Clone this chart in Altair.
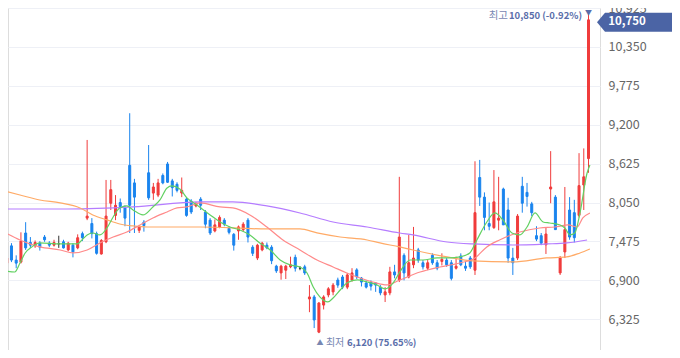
import altair as alt
import pandas as pd

# ---------------- data ----------------
OPEN = [6800, 7155, 7410, 7200, 7170, 7600, 7460, 7410, 7450, 7540,
        7450, 7420, 7440, 7470, 7350, 7420, 7380, 7590, 7820, 7740,
        7590, 7290, 7470, 8040, 7860, 8050, 7970, 8600, 8340, 7640,
        7760, 8490, 8190, 8160, 8450, 8620, 8370, 8320, 8190, 8100,
        8070, 8000, 8100, 7910, 7790, 7630, 7690, 7790, 7670, 7580,
        7630, 7650, 7790, 7390, 7230, 7350, 7420, 7390, 7110, 7010,
        7050, 7100, 7240, 7080, 7100, 6625, 6655, 6135, 6535, 6685,
        6730, 6905, 6950, 6800, 6905, 7055, 6935, 6860, 6875, 6860,
        6800, 6685, 6715, 7025, 6905, 7270, 6950, 7130, 7350, 7160,
        7080, 7270, 7160, 7180, 7200, 7160, 7080, 7260, 7110, 7230,
        7050, 8420, 8130, 7740, 7680, 7790, 8250, 7940, 7230, 7230,
        8290, 8200, 8030, 7560, 7560, 7425, 8250, 8130, 7010, 7320,
        7940, 7900, 7860, 8310, 8700]
HIGH = [6920, 7300, 7450, 7270, 7610, 7760, 7540, 7490, 7480, 7570,
        7480, 7500, 7560, 7500, 7470, 7450, 7580, 7620, 8975, 7820,
        7620, 7510, 8384, 8384, 8160, 8110, 8010, 9370, 8400, 7720,
        7790, 8900, 8340, 8400, 8480, 8650, 8400, 8350, 8420, 8130,
        8100, 8060, 8130, 7940, 7820, 7800, 7860, 7820, 7700, 7600,
        7710, 7760, 7820, 7420, 7440, 7470, 7460, 7420, 7130, 7130,
        7130, 7250, 7280, 7110, 7130, 6830, 6685, 6580, 6680, 6800,
        6860, 6940, 6980, 7010, 7080, 7080, 6950, 6900, 6900, 6875,
        6830, 6800, 7100, 7130, 8430, 7300, 7570, 7690, 7380, 7200,
        7200, 7300, 7200, 7300, 7230, 7200, 7250, 7300, 7180, 7260,
        8660, 8680, 8200, 8050, 8530, 8430, 8270, 8120, 7380, 7880,
        8430, 8340, 8060, 7700, 7600, 7680, 8810, 8160, 7260, 8280,
        8130, 8090, 8780, 8850, 10850]
LOW = [6760, 7130, 7170, 7080, 7150, 7350, 7380, 7380, 7340, 7470,
       7390, 7400, 7380, 7370, 7330, 7240, 7360, 7480, 7790, 7520,
       7280, 7280, 7450, 7940, 7790, 7900, 7700, 7600, 7600, 7600,
       7620, 8090, 8090, 8130, 8320, 8340, 8140, 8200, 8130, 7840,
       7880, 7980, 7940, 7670, 7570, 7610, 7670, 7700, 7580, 7340,
       7500, 7620, 7460, 7260, 7200, 7330, 7360, 7140, 7010, 6910,
       6920, 7080, 7030, 7050, 6980, 6430, 6195, 6120, 6470, 6650,
       6680, 6790, 6770, 6770, 6880, 6920, 6810, 6780, 6750, 6730,
       6680, 6580, 6680, 6930, 6875, 6900, 6930, 7080, 7160, 7060,
       7050, 7130, 7050, 7120, 7100, 6900, 7060, 7110, 7040, 7070,
       6980, 8000, 7640, 7640, 7660, 7640, 7720, 7160, 6980, 7200,
       7900, 7990, 7850, 7480, 7420, 7290, 8040, 7650, 6980, 7230,
       7500, 7460, 7830, 7940, 8490]
CLOSE = [6905, 7230, 7200, 7155, 7480, 7380, 7420, 7460, 7390, 7500,
         7420, 7460, 7440, 7380, 7450, 7320, 7530, 7530, 7850, 7590,
         7300, 7490, 7850, 8240, 8010, 7990, 7820, 8010, 8130, 7690,
         7710, 8120, 8280, 8340, 8340, 8350, 8270, 8230, 8230, 7860,
         7910, 8030, 8010, 7730, 7600, 7720, 7830, 7730, 7610, 7420,
         7690, 7730, 7540, 7300, 7420, 7450, 7380, 7190, 7040, 7110,
         7110, 7130, 7080, 7080, 7010, 6655, 6315, 6565, 6655, 6775,
         6830, 6830, 6800, 6980, 7010, 6950, 6875, 6800, 6815, 6830,
         6715, 6730, 7025, 6980, 7540, 7010, 7160, 7230, 7200, 7100,
         7160, 7160, 7080, 7210, 7130, 6930, 7110, 7130, 7080, 7100,
         7900, 8130, 7830, 7700, 8060, 7820, 7720, 7230, 7160, 7850,
         8040, 8140, 7900, 7510, 7450, 7585, 8280, 7650, 7230, 7650,
         7540, 7530, 8300, 8430, 10750]

# moving averages: (candle index, price)
MA5 = [(-0.4, 7054), (2.7, 7024), (3.8, 7157), (4.9, 7305), (6.3, 7394), (8.0, 7453),
       (12.3, 7438), (15.9, 7438), (16.9, 7497), (18.0, 7571), (19.2, 7600), (20.7, 7571),
       (22.2, 7675), (23.5, 7837), (24.9, 7970), (26.4, 8000), (27.7, 7941), (29.8, 7867),
       (31.9, 7985), (33.4, 8089), (34.9, 8266), (35.9, 8295), (37.6, 8251), (39.1, 8118),
       (41.2, 8014), (44.0, 7867), (46.1, 7763), (48.2, 7689), (50.3, 7645), (52.4, 7571),
       (54.5, 7453), (56.7, 7349), (58.8, 7201), (60.9, 7128), (63.0, 7098), (64.5, 7009),
       (65.8, 6802), (67.2, 6655), (68.9, 6581), (70.0, 6640), (71.5, 6758), (72.9, 6862),
       (75.1, 6906), (77.2, 6876), (79.3, 6832), (81.0, 6773), (82.7, 6862), (84.1, 7024),
       (86.3, 7201), (89.0, 7201), (92.0, 7231), (94.7, 7231), (96.8, 7246), (98.9, 7305),
       (100.4, 7497), (102.5, 7763), (104.2, 7896), (105.9, 7793), (107.8, 7600), (109.5, 7571),
       (111.0, 7689), (112.7, 7896), (114.4, 7763), (115.8, 7748), (118.0, 7719), (119.0, 7674),
       (120.1, 7571), (121.1, 7600), (122.2, 7896), (123.7, 8487), (124.3, 8605)]
MA20 = [(-0.4, 7645), (3.8, 7497), (8.0, 7394), (12.3, 7349), (15.0, 7305), (18.0, 7349),
        (20.7, 7453), (23.5, 7541), (26.4, 7615), (29.2, 7719), (31.9, 7822), (34.9, 7911),
        (37.0, 7970), (39.1, 7985), (41.9, 8044), (46.1, 7985), (48.8, 7970), (52.4, 7867),
        (56.0, 7689), (59.4, 7497), (63.0, 7349), (66.6, 7201), (70.0, 7098), (72.9, 7009),
        (75.7, 6935), (78.4, 6876), (81.4, 6832), (84.1, 6906), (88.4, 7024), (92.6, 7098),
        (96.8, 7157), (100.0, 7231), (102.5, 7394), (105.2, 7497), (109.5, 7615), (113.7, 7674),
        (116.9, 7689), (119.7, 7719), (121.6, 7689), (122.8, 7822), (124.3, 7896)]
MA60 = [(-0.4, 8236), (3.8, 8162), (8.0, 8088), (12.3, 8044), (16.5, 7970), (19.2, 7867),
        (22.2, 7793), (24.9, 7733), (27.7, 7704), (30.7, 7689), (41.9, 7689), (56.0, 7660),
        (63.0, 7660), (66.6, 7601), (71.5, 7541), (77.2, 7497), (79.9, 7453), (84.1, 7394),
        (86.9, 7349), (94.1, 7246), (99.6, 7187), (108.0, 7172), (115.2, 7231), (119.4, 7246),
        (122.2, 7305), (124.3, 7364)]
MA120 = [(-0.4, 7955), (13.7, 7955), (27.7, 7985), (41.9, 8059), (48.8, 8059), (56.0, 8000),
         (63.0, 7896), (70.0, 7763), (77.2, 7689), (84.1, 7600), (86.9, 7571), (94.1, 7467),
         (99.6, 7438), (108.0, 7423), (115.2, 7438), (119.4, 7453), (123.7, 7497)]

Y_TICKS = [6325, 6900, 7475, 8050, 8625, 9200, 9775, 10350, 10925]
HIGH_LABEL = ("최고", "10,850 (-0.92%)")
LOW_LABEL = ("최저", "6,120 (75.65%)")
LAST_PRICE = 10750

# ---------------- styling ----------------
FONT = "Noto Sans CJK KR"
RED, BLUE, FLAT = "#f03c3c", "#1a84ee", "#333333"
ANN_BOLD, ANN_LIGHT = "#5a6eaa", "#7887b2"
TAG_BG = "#4b64a5"
MA_COLORS = {"ma120": "#b57cff", "ma60": "#ffaa66", "ma20": "#ff8a8a", "ma5": "#62d162"}

W, H = 592, 342
RIGHT = 72  # room for the price axis; keeps the page free of a horizontal scroll
x_scale = alt.Scale(domain=[1.268, 126.43], range=[0, W], nice=False, zero=False, padding=0)
y_scale = alt.Scale(domain=[5871, 10925], range=[H, 0], nice=False, zero=False, padding=0)
y_axis = alt.Axis(values=Y_TICKS, format=",.0f", orient="right", title=None, domain=False,
                  ticks=False, labelPadding=8, labelFont=FONT, labelFontSize=12.5,
                  labelColor="#666666", grid=True, gridColor="#eef0f6", gridWidth=1)

n = len(OPEN)
df = pd.DataFrame({"i": list(range(n)), "open": OPEN, "high": HIGH, "low": LOW, "close": CLOSE})
df["dir"] = ["up" if c > o else ("down" if c < o else "flat") for o, c in zip(OPEN, CLOSE)]

dir_scale = alt.Scale(domain=["up", "down", "flat"], range=[RED, BLUE, FLAT])
X = alt.X("i:Q", scale=x_scale, axis=None)

base = alt.Chart(df)
wicks = base.mark_rule(strokeWidth=1).encode(
    x=X, y=alt.Y("low:Q", scale=y_scale, axis=y_axis), y2="high:Q",
    color=alt.Color("dir:N", scale=dir_scale, legend=None))
bodies = base.mark_bar(size=2, strokeWidth=1).encode(
    x=X, y=alt.Y("open:Q", scale=y_scale, axis=y_axis), y2="close:Q",
    fill=alt.Fill("dir:N", scale=dir_scale, legend=None),
    stroke=alt.Stroke("dir:N", scale=dir_scale, legend=None))

layers = [wicks, bodies]
for name, pts in [("ma120", MA120), ("ma60", MA60), ("ma20", MA20), ("ma5", MA5)]:
    d = pd.DataFrame({"i": [p[0] for p in pts], "v": [p[1] for p in pts]})
    layers.append(alt.Chart(d).mark_line(strokeWidth=1.2, interpolate="monotone",
                                         color=MA_COLORS[name]).encode(
        x=X, y=alt.Y("v:Q", scale=y_scale, axis=y_axis)))

hi_df = pd.DataFrame({"i": [int(df["high"].idxmax())], "v": [max(HIGH)]})
lo_df = pd.DataFrame({"i": [int(df["low"].idxmin())], "v": [min(LOW)]})
last_df = pd.DataFrame({"i": [n - 1], "v": [LAST_PRICE]})

def txt(data, text, **kw):
    return alt.Chart(data).mark_text(text=text, font=FONT, baseline="middle", **kw).encode(
        x=X, y=alt.Y("v:Q", scale=y_scale, axis=y_axis))

layers += [
    txt(hi_df, HIGH_LABEL[0], align="right", dx=-80.5, dy=2.5, fontSize=10.5, color=ANN_LIGHT),
    txt(hi_df, HIGH_LABEL[1], align="right", dx=-6.5, dy=2.5, fontSize=9.5, fontWeight="bold",
        color=ANN_BOLD),
    txt(hi_df, "▼", align="center", dx=0, dy=-0.5, fontSize=7, color=ANN_BOLD),
    txt(lo_df, "▲", align="center", dx=1, dy=10, fontSize=7, color=ANN_LIGHT),
    txt(lo_df, LOW_LABEL[0], align="left", dx=7, dy=10, fontSize=10, color=ANN_LIGHT),
    txt(lo_df, LOW_LABEL[1], align="left", dx=28, dy=10, fontSize=9.5, fontWeight="bold",
        color=ANN_BOLD),
]

TAG_PATH = "M-1,0L-0.807,-0.229L1,-0.229L1,0.229L-0.807,0.229Z"
layers.append(alt.Chart(last_df).mark_point(shape=TAG_PATH, size=6889, filled=True, fill=TAG_BG,
                                            opacity=1, strokeWidth=0, xOffset=50,
                                            yOffset=2.5).encode(
    x=X, y=alt.Y("v:Q", scale=y_scale, axis=y_axis)))
layers.append(alt.Chart(last_df).mark_text(font=FONT, fontSize=11.5, fontWeight="bold",
                                           color="white", align="center", baseline="middle",
                                           dx=38.5, dy=2.5).encode(
    x=X, y=alt.Y("v:Q", scale=y_scale, axis=y_axis), text=alt.Text("v:Q", format=",")))

chart = alt.layer(*layers).properties(
    width=W, height=H,
    autosize=alt.AutoSizeParams(type="none"),
    padding={"left": 0, "top": 0, "right": RIGHT, "bottom": 0},
).configure_view(stroke=None).configure(background="white")

chart.save("out.html", embed_options={"renderer": "svg", "actions": False})
